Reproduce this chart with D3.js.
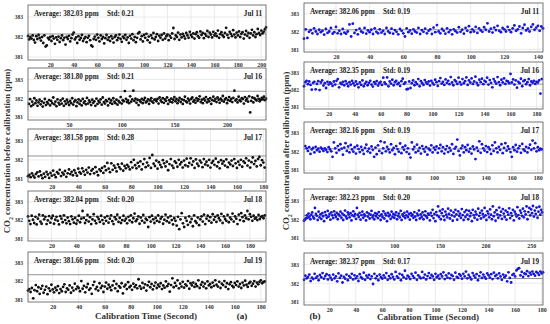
<!DOCTYPE html>
<html>
<head>
<meta charset="utf-8">
<script src="https://cdn.jsdelivr.net/npm/d3@7"></script>
<style>body{margin:0;background:#fff}</style>
</head>
<body>
<script>
const width = 550;
const height = 324;

// readings, one per second, in hundredths of a ppm above 381 (85 -> 381.85)
const base = 381;
const before11 = [105,88,100,92,108,85,72,104,90,110,95,82,100,70,108,52,58,96,88,100,
  80,104,92,66,98,86,102,75,94,108,84,96,62,100,90,106,78,94,112,122,
  88,98,70,104,86,95,110,80,92,100,74,96,106,84,58,52,90,102,86,112,
  96,78,108,90,100,68,94,110,86,98,80,104,92,72,100,108,84,96,112,90,
  76,102,94,110,86,98,70,106,92,114,84,100,74,96,118,124,88,104,78,110,
  96,116,84,102,72,108,94,120,88,100,114,80,106,96,110,86,118,92,104,112,
  84,106,96,118,145,90,108,100,122,86,112,98,116,104,92,120,108,96,126,110,
  100,118,92,114,124,104,96,128,110,120,94,116,106,130,100,122,112,98,126,108,
  118,104,132,96,114,124,108,100,120,146,110,96,126,116,104,134,112,98,122,108,
  128,100,116,124,92,112,130,106,120,96,118,136,108,124,100,114,140,120,110,132,118,126,138,148];
const before16 = [70,95,58,82,66,100,74,88,60,78,92,68,84,56,76,96,64,80,72,90,
  62,86,74,104,68,82,58,94,76,66,88,72,98,60,84,70,92,78,64,86,
  74,100,66,82,90,58,78,94,70,86,62,96,76,84,68,102,72,88,80,64,
  92,76,84,60,98,70,86,78,94,66,104,80,72,90,84,62,96,76,88,70,
  100,82,74,92,66,86,78,106,72,90,84,138,96,80,88,74,110,82,94,140,
  86,98,76,92,64,88,80,96,74,90,102,78,84,94,70,88,100,82,76,92,
  92,84,96,72,104,88,80,100,76,94,86,104,70,90,82,98,78,92,106,84,
  96,74,88,102,80,94,70,90,108,84,78,98,88,72,96,104,82,90,76,100,
  86,94,110,80,92,74,98,88,106,78,94,84,100,70,90,108,86,96,80,104,
  92,76,98,88,112,82,94,100,74,90,106,86,96,80,102,140,88,94,78,108,
  90,84,100,96,72,106,88,98,82,110,25,86,104,78,100,94,88,112,96,84,92,102,94,108,90,98];
const before17 = [15,22,10,30,18,8,26,35,14,40,20,5,28,12,38,24,6,32,18,44,
  22,10,36,28,48,16,34,24,42,12,30,50,26,38,20,46,32,18,54,36,
  28,56,40,22,48,34,60,26,44,52,30,62,38,20,50,42,58,32,66,46,
  84,54,36,82,48,70,58,40,76,62,52,80,44,68,56,74,64,50,88,60,
  100,72,56,84,66,92,50,78,104,62,86,70,110,58,125,80,68,96,54,88,
  74,62,98,82,66,90,46,78,104,70,58,92,84,64,100,76,88,60,96,72,
  106,66,84,108,74,92,58,102,80,68,96,86,62,104,76,90,70,100,60,84,
  94,74,106,66,88,56,98,80,92,70,102,62,86,76,96,68,104,82,58,90,
  74,100,64,92,84,108,70,96,60,88,112,78,94,66,104,115,72,98,86,60];
const before18 = [120,96,78,124,102,84,118,76,108,130,92,80,126,104,118,78,98,122,86,110,
  124,80,102,118,96,76,122,108,88,126,100,82,114,94,78,120,104,86,112,80,
  98,124,88,108,150,112,84,100,128,92,116,78,104,132,96,82,118,106,90,124,
  100,80,114,96,122,86,108,126,94,78,116,104,130,90,112,84,100,124,96,108,
  82,118,98,126,88,110,136,94,104,120,80,114,96,128,86,108,100,62,116,92,
  124,104,84,112,96,126,90,108,118,80,102,130,94,114,86,122,100,76,110,96,
  70,118,50,104,138,82,62,112,96,74,120,88,106,66,126,94,84,114,72,104,
  120,92,130,78,108,124,96,116,86,132,102,118,90,126,110,98,134,84,120,106,
  96,128,88,114,104,136,92,120,108,78,130,100,138,116,94,126,110,150,104,132,
  118,96,124,108,114,100,128,106,118,122,110,126];
const before19 = [48,56,40,62,5,50,78,44,66,30,58,74,36,52,70,28,60,46,80,54,
  38,64,50,72,34,56,44,68,82,40,60,52,76,36,64,48,86,56,70,62,
  44,100,58,74,38,66,84,52,60,30,78,96,56,68,48,88,62,74,40,70,
  92,58,80,66,50,76,100,60,84,44,72,64,88,32,70,80,56,94,66,74,
  52,86,68,78,60,110,72,58,90,64,82,48,76,96,66,84,54,74,92,62,
  80,70,88,56,76,64,98,72,84,42,78,115,66,90,74,104,60,86,70,96,
  64,82,74,100,58,88,76,92,68,84,72,104,62,80,94,70,86,60,98,76,
  84,66,92,74,104,80,70,96,62,86,78,100,68,88,56,82,94,74,66,90,
  78,98,70,84,62,92,76,102,80,68,88,96,74,86,100,70,92,82,96,104,88,94,98];

const after11 = [60,112,64,98,108,90,118,100,86,110,96,104,82,114,92,100,120,88,96,126,
  90,104,86,114,94,88,100,140,72,144,92,108,84,116,100,94,120,88,106,96,
  110,86,118,98,90,112,94,104,86,120,100,92,116,88,108,98,84,114,104,90,
  72,118,96,106,88,112,100,94,120,86,108,98,116,90,104,112,86,122,96,136,
  100,90,114,104,88,118,96,108,84,112,102,94,124,98,110,88,120,104,130,96,
  112,100,126,92,118,106,98,124,110,146,100,116,94,122,108,132,104,96,120,112,
  100,126,108,96,118,134,104,112,128,90,120,138,106,116,100,126,140,110,122,132,104,128,118];
const after16 = [118,142,150,130,146,126,98,138,144,100,132,148,96,140,152,122,136,108,144,128,
  140,134,120,146,128,150,160,112,138,130,144,124,148,134,118,142,128,150,136,122,
  146,130,112,140,126,152,118,134,144,124,138,150,128,116,142,132,148,122,136,144,
  126,168,140,130,170,118,146,134,156,124,142,150,130,138,120,148,162,132,140,100,
  102,146,108,136,152,124,142,130,160,118,148,136,126,154,140,132,146,122,150,138,
  128,156,142,120,148,166,134,144,126,158,138,150,130,172,140,124,154,146,132,168,
  142,128,160,136,148,170,126,152,140,164,132,146,174,138,124,156,142,162,130,150,
  144,168,128,154,138,112,160,146,134,172,142,124,156,140,164,132,150,146,136,190,
  140,158,128,152,110,144,136,162,118,148,154,130,142,160,124,146,138,150,132,144,140,152,75,160];
const after17 = [130,118,104,124,88,112,120,96,126,108,116,100,122,114,104,118,110,98,124,112,
  102,72,150,118,94,130,108,140,116,84,122,146,104,128,96,136,112,100,124,90,
  132,114,98,126,108,88,120,138,102,116,94,128,110,72,122,86,134,104,156,92,
  118,150,102,126,112,96,140,108,120,86,130,114,100,144,92,124,110,132,98,118,
  88,68,150,112,126,96,138,104,120,90,130,114,100,124,84,116,108,134,96,122,
  110,128,94,118,136,102,124,90,112,130,98,120,106,140,88,116,126,165,104,80,
  118,132,96,124,108,136,100,116,90,128,112,60,122,104,156,94,140,118,106,130,
  98,124,112,88,134,104,150,118,96,126,110,140,92,120,146,106,128,114,98,72,
  124,108,136,100,118,130,94,142,112,104,126,96,120,138,110,160,118,146,102,124,108,116,112];
const after18 = [92,98,104,120,108,130,114,100,124,136,112,104,160,128,118,96,140,110,126,102,
  132,116,90,138,122,108,144,114,128,98,136,120,106,142,124,112,134,100,126,118,
  140,108,130,96,122,146,114,104,136,126,110,132,94,120,142,116,128,102,160,124,
  112,134,98,122,140,108,126,118,94,136,114,130,104,124,144,110,120,100,132,116,
  128,106,138,118,96,126,112,142,104,130,120,90,134,116,124,102,140,112,128,108,
  122,136,100,118,130,110,144,96,126,116,134,106,120,140,112,128,98,132,118,124,
  108,138,114,96,130,120,146,104,126,112,136,100,122,142,116,108,130,124,94,134,
  118,150,106,128,90,138,120,168,112,144,100,132,152,116,96,140,124,110,156,128,
  104,146,120,92,136,114,150,126,98,142,118,130,108,154,122,96,138,112,148,124,
  100,144,116,132,90,150,122,108,140,126,98,156,118,134,104,146,128,112,160,120,
  96,142,130,110,152,124,100,168,116,136,92,148,126,108,162,120,140,102,154,130,
  112,146,98,138,124,158,106,132,118,150,94,140,128,114,164,122,104,146,134,118,
  156,110,142,126,168,100,138,160,120,152,132,170,114,146,128,162,108,140,166,124,150,136];
const after19 = [118,140,126,134,146,112,130,122,150,128,136,116,144,132,154,124,138,148,120,142,
  130,118,146,126,136,110,152,128,140,104,134,124,146,116,138,130,150,120,142,126,
  136,112,148,132,124,156,118,140,130,144,122,136,96,150,126,138,116,146,132,124,
  142,130,154,118,138,126,148,134,120,160,136,128,150,116,144,132,166,124,140,134,
  122,150,138,128,156,118,142,134,126,160,130,146,120,138,154,128,144,136,118,150,
  132,140,124,148,136,158,122,142,130,152,126,144,138,118,156,134,128,148,140,124,
  150,136,162,126,144,132,120,154,140,130,148,116,138,158,128,146,134,124,152,142,
  130,148,122,156,138,144,126,152,136,118,146,132,140,110,158,128,104,144,150,136,
  168,176,180,142,160,134,152,148,164,138,156,146,162,150,140,160,154,144,162,152,158];

const dates = ['Jul 11', 'Jul 16', 'Jul 17', 'Jul 18', 'Jul 19'];
const avgBefore = ['382.03', '381.80', '381.58', '382.04', '381.66'];
const stdBefore = ['0.21', '0.21', '0.28', '0.20', '0.20'];
const avgAfter = ['382.06', '382.35', '382.16', '382.23', '382.37'];
const stdAfter = ['0.19', '0.19', '0.19', '0.20', '0.17'];
const firstSecBefore = [1, 12, 2, 1, 1];
const firstSecAfter = [1, 1, 1, 1, 1];
const xLimBefore = [[1, 204], [11, 237], [2, 182], [1, 193], [1, 184]];
const xLimAfter = [[1, 143], [1, 185], [0, 184], [1, 263], [1, 181]];
const xTicksBefore = [d3.range(20, 201, 20), [50, 100, 150, 200], d3.range(20, 181, 20), d3.range(20, 181, 20), d3.range(20, 181, 20)];
const xTicksAfter = [d3.range(20, 141, 20), d3.range(20, 181, 20), d3.range(20, 181, 20), [50, 100, 150, 200, 250], d3.range(20, 181, 20)];
const yTicks = [381, 382, 383];
const yLim = [380.85, 383.6];
const legendEdgeBefore = [382.15, 382.37, 382.2, 382.2, 382.35];
const legendEdgeAfter = [382.1, 382.3, 382.15, 382.2, 382.25];

const seriesBefore = [before11, before16, before17, before18, before19];
const seriesAfter = [after11, after16, after17, after18, after19];

const svg = d3.select('body')
    .append('svg')
    .attr('width', width)
    .attr('height', height)
    .style('font-family', '"Liberation Serif", "Times New Roman", serif')
    .style('font-weight', 'bold');

// panel frames
const leftCol = {x: 28, w: 238, tops: [5, 68, 129, 191, 252], bottoms: [60, 120, 182, 241, 302]};
const rightCol = {x: 304, w: 239, tops: [3, 62, 122, 189, 253], bottoms: [52, 109, 173, 241, 305]};

function drawPanel(col, i, values, firstSec, xLim, xTicks, avg, std, edge, color) {
  const top = col.tops[i], bottom = col.bottoms[i];
  const x = d3.scaleLinear().domain(xLim).range([col.x, col.x + col.w]);
  const y = d3.scaleLinear().domain(yLim).range([bottom, top]);
  const g = svg.append('g');

  g.append('g').selectAll('line').data(xTicks).enter().append('line')
      .attr('x1', d => x(d)).attr('x2', d => x(d))
      .attr('y1', top).attr('y2', bottom)
      .attr('stroke', '#e2e2e2').attr('stroke-width', 0.7);
  g.append('g').selectAll('line').data(yTicks).enter().append('line')
      .attr('x1', col.x).attr('x2', col.x + col.w)
      .attr('y1', d => y(d)).attr('y2', d => y(d))
      .attr('stroke', '#e2e2e2').attr('stroke-width', 0.7);

  g.append('line')
      .attr('x1', col.x).attr('x2', col.x + col.w)
      .attr('y1', y(edge)).attr('y2', y(edge))
      .attr('stroke', '#666').attr('stroke-width', 0.7);

  g.append('g').selectAll('circle').data(values).enter().append('circle')
      .attr('cx', (d, k) => x(firstSec + k))
      .attr('cy', d => y(base + d / 100))
      .attr('r', 1.4)
      .attr('fill', color);

  g.append('rect')
      .attr('x', col.x).attr('y', top)
      .attr('width', col.w).attr('height', bottom - top)
      .attr('fill', 'none').attr('stroke', '#555').attr('stroke-width', 0.8);

  const xAxis = g.append('g')
      .attr('transform', `translate(0,${bottom})`)
      .call(d3.axisBottom(x).tickValues(xTicks).tickSize(0).tickPadding(2.5));
  const yAxis = g.append('g')
      .attr('transform', `translate(${col.x},0)`)
      .call(d3.axisLeft(y).tickValues(yTicks).tickFormat(d3.format('d')).tickSize(0).tickPadding(5));
  [xAxis, yAxis].forEach((a, k) => {
    a.select('.domain').remove();
    a.selectAll('text')
        .attr('fill', '#333')
        .style('font-family', '"Liberation Serif", serif')
        .style('font-weight', 'bold')
        .style('font-size', k === 0 ? '6px' : '5.5px');
  });

  g.append('text').attr('x', col.x + 6).attr('y', top + 10.5)
      .attr('font-size', 7.2).attr('fill', '#222')
      .text(`Average: ${avg} ppm`);
  g.append('text').attr('x', col.x + 79).attr('y', top + 10.5)
      .attr('font-size', 7.2).attr('fill', '#222')
      .text(`Std: ${std}`);
  g.append('text').attr('x', col.x + col.w - 4).attr('y', top + 10.5)
      .attr('font-size', 7.2).attr('fill', '#222').attr('text-anchor', 'end')
      .text(dates[i]);
}

dates.forEach((d, i) => {
  drawPanel(leftCol, i, seriesBefore[i], firstSecBefore[i], xLimBefore[i], xTicksBefore[i],
      avgBefore[i], stdBefore[i], legendEdgeBefore[i], '#111');
  drawPanel(rightCol, i, seriesAfter[i], firstSecAfter[i], xLimAfter[i], xTicksAfter[i],
      avgAfter[i], stdAfter[i], legendEdgeAfter[i], '#1515dc');
});

// axis titles
function yTitle(cx, word) {
  const t = svg.append('text')
      .attr('transform', `translate(${cx},151) rotate(-90)`)
      .attr('text-anchor', 'middle')
      .attr('font-size', 8.8)
      .attr('fill', '#333');
  t.append('tspan').text('CO');
  t.append('tspan').attr('font-size', 6).attr('dy', 2.5).text('2');
  t.append('tspan').attr('dy', -2.5).text(` concentration ${word} calibration (ppm)`);
}
yTitle(10, 'before');
yTitle(289, 'after');

svg.append('text').attr('x', 146).attr('y', 319).attr('text-anchor', 'middle')
    .attr('font-size', 9).attr('fill', '#333').text('Calibration Time (Second)');
svg.append('text').attr('x', 428).attr('y', 320).attr('text-anchor', 'middle')
    .attr('font-size', 9).attr('fill', '#333').text('Calibration Time (Second)');
svg.append('text').attr('x', 242).attr('y', 319).attr('text-anchor', 'middle')
    .attr('font-size', 9).attr('fill', '#222').text('(a)');
svg.append('text').attr('x', 315).attr('y', 319).attr('text-anchor', 'middle')
    .attr('font-size', 9).attr('fill', '#222').text('(b)');
</script>
</body>
</html>
